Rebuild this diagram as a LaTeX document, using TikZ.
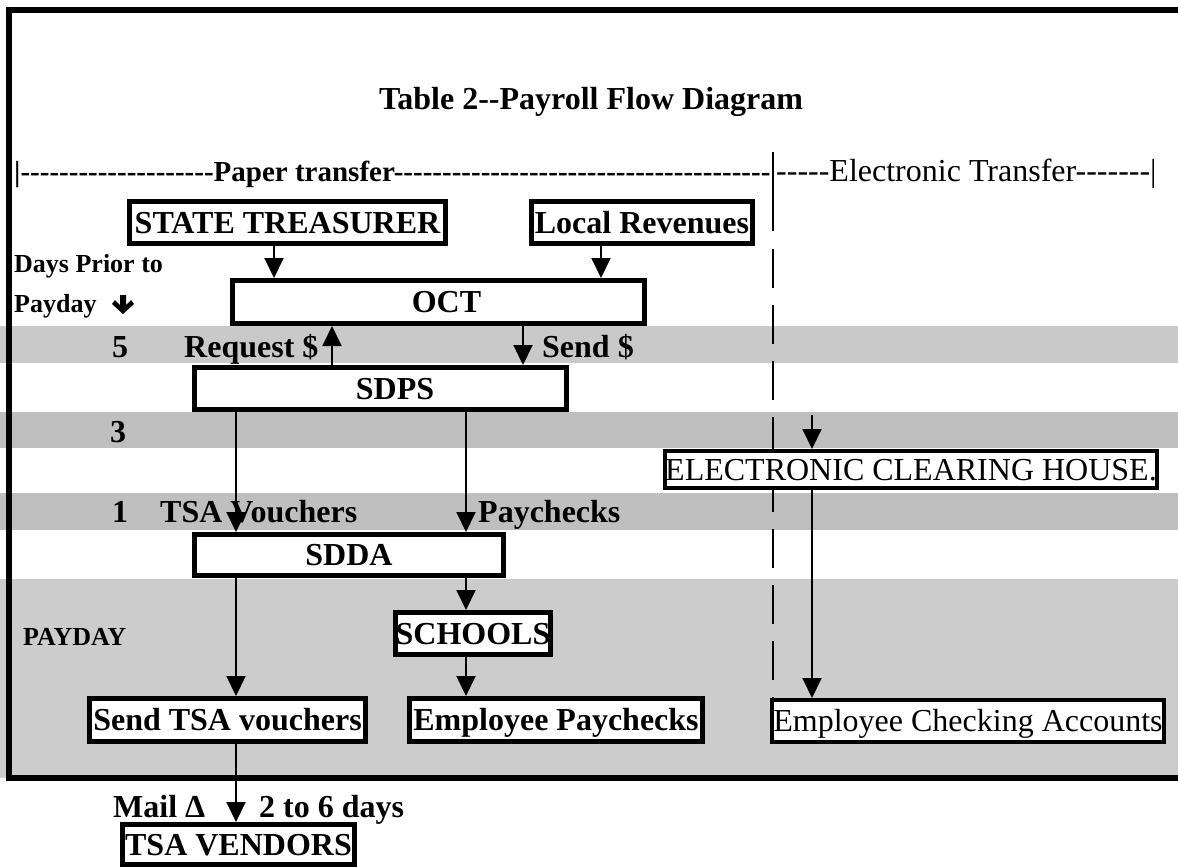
\documentclass[tikz,border=0pt]{standalone}
\usepackage{fontspec}
\setmainfont{Liberation Serif}
\usetikzlibrary{arrows.meta}
\definecolor{bandA}{RGB}{201,201,201}
\definecolor{bandB}{RGB}{191,191,191}
\definecolor{bandC}{RGB}{204,204,204}
\newcommand\hyph[1]{\foreach \n in {1,...,#1}{-\kern0pt}}
\newcommand\bfbig{\fontsize{32}{38}\selectfont\bfseries}
\newcommand\rmbig{\fontsize{32}{38}\selectfont}
\newcommand\bfhead{\fontsize{29}{34}\selectfont\bfseries}
\newcommand\bfsmall{\fontsize{26}{30}\selectfont\bfseries}
\tikzset{
  box/.style={draw, fill=white, line width=5pt, inner sep=0pt,
    text height=21pt, text depth=0pt, font=\bfbig, align=center},
  ebox/.style={box, line width=4pt, font=\rmbig},
  arr/.style={line width=2pt, -{Triangle[width=19pt,length=20pt]}},
  lab/.style={font=\bfbig, anchor=base west, inner sep=0pt},
  slab/.style={font=\bfsmall, anchor=base west, inner sep=0pt},
}
\begin{document}
\begin{tikzpicture}[x=1pt,y=-1pt]
\useasboundingbox (0,0) rectangle (1178,867);
\clip (0,0) rectangle (1178,867);
% bands
\fill[bandA] (0,326) rectangle (1178,363);
\fill[bandB] (0,412) rectangle (1178,448);
\fill[bandB] (0,493) rectangle (1178,530);
\fill[bandC] (0,579) rectangle (1178,778);
% frame
\draw[line width=6pt] (1200,10.5) -- (8.5,10.5) -- (8.5,778) -- (1200,778);
% divider
\draw[line width=2pt] (773,152) -- (773,231);
\draw[line width=2pt, dash pattern=on 39pt off 17pt] (773,249) -- (773,700);
% texts
\node[anchor=base, inner sep=0pt, font=\bfbig] (title) at (591,109) {Table 2-\kern0pt-Payroll Flow Diagram};
\node[anchor=base west, inner sep=0pt, font=\bfhead] (hdl) at (14,181) {|\hyph{20}Paper transfer\hyph{39}};
\node[anchor=base west, inner sep=0pt, font=\rmbig] (hdr) at (776,181) {\hyph{5}Electronic Transfer\hyph{7}|};
\node[slab] (days) at (14,272) {Days Prior to};
\node[slab] (payday1) at (14,312) {Payday};
\fill (120,295) -- (126,295) -- (126,305) -- (131,300) -- (134,304) -- (123,314) -- (112,304) -- (115,300) -- (120,305) -- cycle;
\node[lab] (n5) at (112,357) {5};
\node[lab] (req) at (184,357) {Request \$};
\node[lab] (send) at (542,357) {Send \$};
\node[lab] (n3) at (110,442) {3};
\node[lab] (n1) at (112,522) {1};
\node[lab] (tsav) at (160,522) {TSA Vouchers};
\node[lab] (payc) at (478,522) {Paychecks};
\node[slab] (payday2) at (23,645) {PAYDAY};
\node[lab] (mail) at (113,817) {Mail Δ};
\node[lab] (days26) at (259,817) {2 to 6 days};
% boxes
\node[box, minimum width=316pt, minimum height=42pt] (st) at (287.5,222.5) {STATE TREASURER};
\node[box, minimum width=221pt, minimum height=42pt] (lr) at (642,222.5) {Local Revenues};
\node[box, minimum width=412pt, minimum height=43pt] (oct) at (438.5,302) {\hspace*{16pt}OCT};
\node[box, minimum width=372pt, minimum height=42pt] (sdps) at (380.5,388.5) {\hspace*{29pt}SDPS};
\node[box, minimum width=309pt, minimum height=41pt] (sdda) at (349,555) {SDDA};
\node[box, minimum width=150pt, minimum height=42pt] (schools) at (473,633.5) {SCHOOLS};
\node[box, minimum width=276pt, minimum height=43pt] (sendtsa) at (227.5,720) {Send TSA vouchers};
\node[box, minimum width=293pt, minimum height=43pt] (emppay) at (556,720) {Employee Paychecks};
\node[box, minimum width=232pt, minimum height=40pt] (vendors) at (238.5,844.5) {TSA VENDORS};
\node[ebox, minimum width=490pt, minimum height=37pt] (ech) at (911,469.5) {ELECTRONIC CLEARING HOUSE.};
\node[ebox, minimum width=392pt, minimum height=42pt] (eca) at (968,721) {Employee Checking Accounts};
% columns
\coordinate (c1) at (274,0);
\coordinate (c2) at (601,0);
\coordinate (c3) at (332,0);
\coordinate (c4) at (523,0);
\coordinate (c5) at (236,0);
\coordinate (c6) at (466,0);
\coordinate (c7) at (812,0);
\coordinate (echin) at (812,415);
% connectors
\draw[arr] (st.south -| c1) -- (oct.north -| c1);
\draw[arr] (lr.south -| c2) -- (oct.north -| c2);
\draw[arr] (sdps.north -| c3) -- (oct.south -| c3);
\draw[arr] (oct.south -| c4) -- (sdps.north -| c4);
\draw[arr] (sdps.south -| c5) -- (sdda.north -| c5);
\draw[arr] (sdps.south -| c6) -- (sdda.north -| c6);
\draw[arr] (sdda.south -| c5) -- (sendtsa.north -| c5);
\draw[arr] (sdda.south -| c6) -- (schools.north -| c6);
\draw[arr] (schools.south -| c6) -- (emppay.north -| c6);
\draw[arr] (sendtsa.south -| c5) -- (vendors.north -| c5);
\draw[arr] (echin) -- (ech.north -| c7);
\draw[arr] (ech.south -| c7) -- (eca.north -| c7);
\end{tikzpicture}
\end{document}
